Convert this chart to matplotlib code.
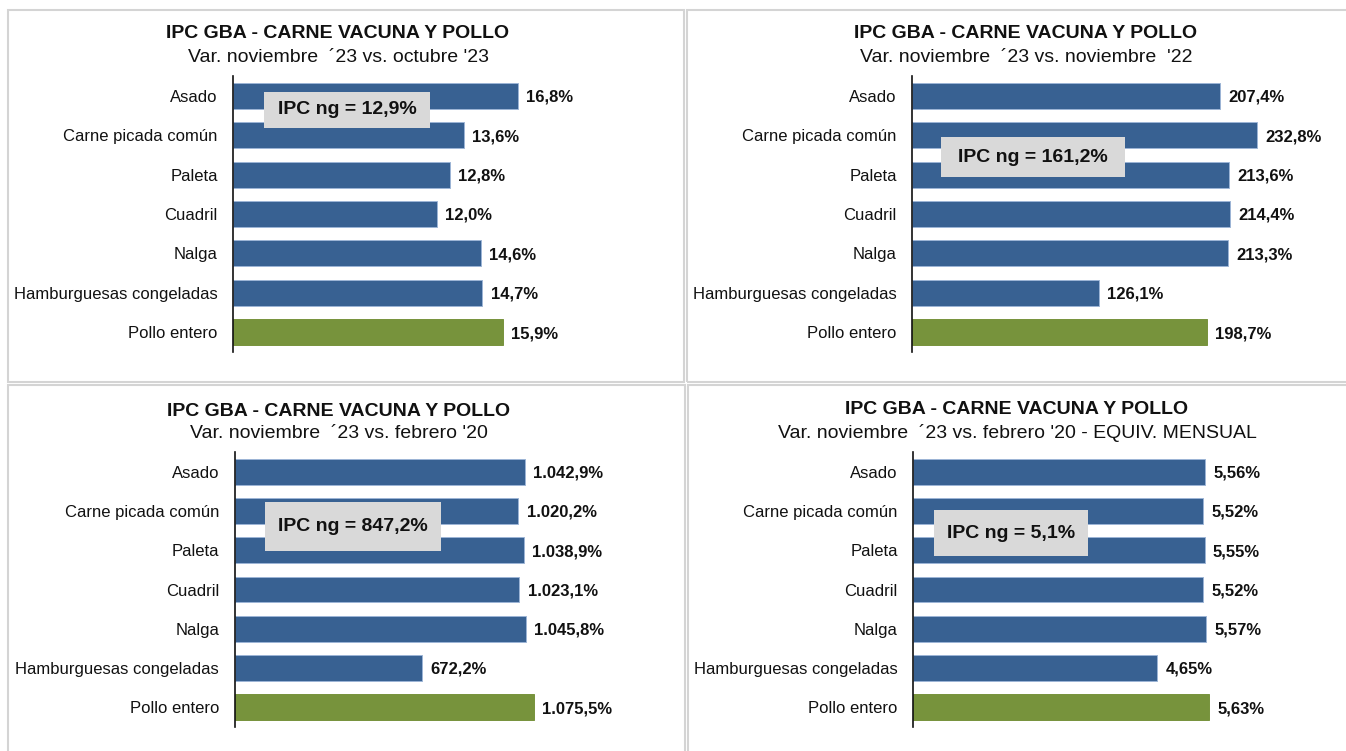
"""IPC GBA - carne vacuna y pollo: four horizontal bar panels."""

import matplotlib

matplotlib.use("Agg")
import matplotlib.pyplot as plt
from matplotlib.patches import Rectangle

plt.rcParams["font.family"] = ["Liberation Sans", "DejaVu Sans"]

W, H = 1346, 751

categories = [
    "Asado",
    "Carne picada común",
    "Paleta",
    "Cuadril",
    "Nalga",
    "Hamburguesas congeladas",
    "Pollo entero",
]
var_oct23 = [16.8, 13.6, 12.8, 12.0, 14.6, 14.7, 15.9]
var_nov22 = [207.4, 232.8, 213.6, 214.4, 213.3, 126.1, 198.7]
var_feb20 = [1042.9, 1020.2, 1038.9, 1023.1, 1045.8, 672.2, 1075.5]
var_feb20_mensual = [5.56, 5.52, 5.55, 5.52, 5.57, 4.65, 5.63]
ipc_ng = [12.9, 161.2, 847.2, 5.1]

title = "IPC GBA - CARNE VACUNA Y POLLO"
subtitles = [
    "Var. noviembre  \u00b423 vs. octubre '23",
    "Var. noviembre  \u00b423 vs. noviembre  '22",
    "Var. noviembre  \u00b423 vs. febrero '20",
    "Var. noviembre  \u00b423 vs. febrero '20 - EQUIV. MENSUAL",
]

BLUE = "#386192"
GREEN = "#77933c"
EDGE = "#9db5d6"
BOX = "#d9d9d9"
BORDER = "#d4d4d4"


def es_fmt(v, dec):
    s = f"{v:,.{dec}f}"
    return s.replace(",", "X").replace(".", ",").replace("X", ".")


def fx(x):
    return x / W


def fy(y):
    return 1 - y / H


def add_axes_px(fig, left, top, width, height):
    return fig.add_axes([fx(left), fy(top + height), width / W, height / H])


def panel_border(fig, x0, y0, x1, y1):
    fig.add_artist(
        Rectangle(
            (fx(x0), fy(y1)),
            (x1 - x0) / W,
            (y1 - y0) / H,
            transform=fig.transFigure,
            fill=False,
            edgecolor=BORDER,
            linewidth=1.5,
        )
    )


def ipc_box(fig, x0, y0, x1, y1, text):
    fig.add_artist(
        Rectangle(
            (fx(x0), fy(y1)),
            (x1 - x0) / W,
            (y1 - y0) / H,
            transform=fig.transFigure,
            facecolor=BOX,
            edgecolor="none",
            zorder=10,
        )
    )
    fig.text(
        fx((x0 + x1) / 2),
        fy((y0 + y1) / 2),
        text,
        ha="center",
        va="center",
        fontsize=14,
        fontweight="bold",
        color="#111111",
        zorder=11,
    )


def bar_panel(ax, values, xmax, dec):
    colors = [BLUE] * (len(values) - 1) + [GREEN]
    ypos = range(len(values))
    ax.barh(
        ypos,
        values,
        height=0.66,
        color=colors,
        edgecolor=[EDGE] * (len(values) - 1) + [GREEN],
        linewidth=0.7,
    )
    for y, v in zip(ypos, values):
        ax.annotate(
            es_fmt(v, dec) + "%",
            (v, y),
            xytext=(6, -1),
            textcoords="offset points",
            ha="left",
            va="center",
            fontsize=12,
            fontweight="bold",
            color="#111111",
            annotation_clip=False,
        )
    ax.set_xlim(0, xmax)
    ax.set_ylim(len(values) - 0.5, -0.5)
    ax.set_yticks(list(ypos))
    ax.set_yticklabels(categories, fontsize=12, color="#111111")
    ax.tick_params(axis="y", length=0, pad=11)
    ax.set_xticks([])
    for side in ("top", "right", "bottom"):
        ax.spines[side].set_visible(False)
    ax.spines["left"].set_linewidth(1.2)
    ax.spines["left"].set_color("#111111")
    ax.patch.set_alpha(0)


fig = plt.figure(figsize=(W / 100, H / 100), dpi=100)

panel_border(fig, 8, 10, 684, 382)
panel_border(fig, 687, 10, 1350, 382)
panel_border(fig, 8, 385, 685, 755)
panel_border(fig, 688, 385, 1350, 755)

panels = [
    # (axes left, top, width, height), xmax, decimals, title center, box
    ((233, 76, 405, 276), 23.88, 1, (338, 33, 57), (264, 92, 430, 128)),
    ((912, 76, 405, 276), 273.1, 1, (1026, 33, 57), (941, 137, 1125, 177)),
    ((234.5, 452, 405, 275), 1455.0, 1, (339, 412, 434), (265, 502, 441, 551)),
    ((913, 452, 405, 275), 7.707, 2, (1017, 409, 433), (934, 510, 1088, 556)),
]
series = [var_oct23, var_nov22, var_feb20, var_feb20_mensual]

for i, (rect, xmax, dec, tpos, box) in enumerate(panels):
    ax = add_axes_px(fig, *rect)
    bar_panel(ax, series[i], xmax, dec)
    cx, ty, sy = tpos
    fig.text(fx(cx), fy(ty), title, ha="center", va="center",
             fontsize=14, fontweight="bold", color="#111111")
    fig.text(fx(cx), fy(sy), subtitles[i], ha="center", va="center",
             fontsize=14, color="#111111")
    ipc_box(fig, *box, "IPC ng = " + es_fmt(ipc_ng[i], 1) + "%")

fig.savefig("out.png", dpi=100)
